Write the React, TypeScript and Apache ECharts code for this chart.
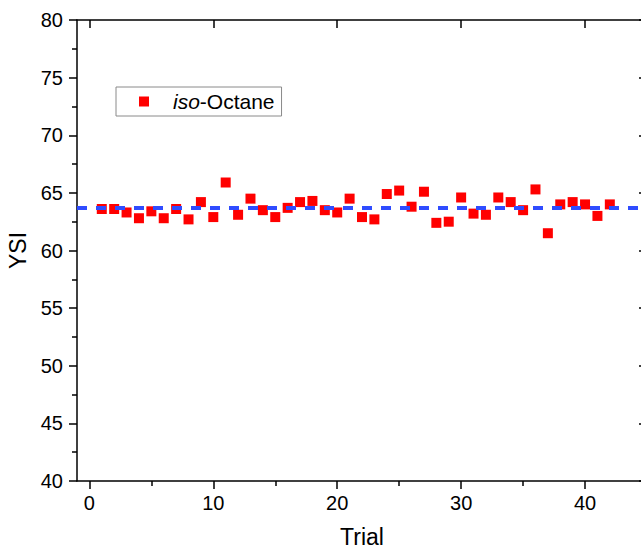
import React, { useEffect, useRef } from 'react';
import * as echarts from 'echarts';

// ---- data ----
const trials = [
  1, 2, 3, 4, 5, 6, 7, 8, 9, 10,
  11, 12, 13, 14, 15, 16, 17, 18, 19, 20,
  21, 22, 23, 24, 25, 26, 27, 28, 29, 30,
  31, 32, 33, 34, 35, 36, 37, 38, 39, 40,
  41, 42,
];
const ysiValues = [
  63.6, 63.6, 63.3, 62.8, 63.4, 62.8, 63.6, 62.7, 64.2, 62.9,
  65.9, 63.1, 64.5, 63.5, 62.9, 63.7, 64.2, 64.3, 63.5, 63.3,
  64.5, 62.9, 62.7, 64.9, 65.2, 63.8, 65.1, 62.4, 62.5, 64.6,
  63.2, 63.1, 64.6, 64.2, 63.5, 65.3, 61.5, 64.0, 64.2, 64.0,
  63.0, 64.0,
];
const meanYSI = 63.7;
const seriesName = 'iso-Octane';
const xMajorTicks = [0, 10, 20, 30, 40];
const xMinorTicks = [5, 15, 25, 35, 45];

const FONT = 'Liberation Sans, Arial, Helvetica, sans-serif';

export default function App() {
  const ref = useRef<HTMLDivElement>(null);

  useEffect(() => {
    if (!ref.current) return;
    const chart = echarts.init(ref.current, undefined, { renderer: 'svg' });
    const points = trials.map((t, i) => [t, ysiValues[i]]);
    const black = '#000';

    chart.setOption({
      animation: false,
      backgroundColor: '#fff',
      textStyle: { fontFamily: FONT },
      grid: { left: 77, right: -6, top: 20, bottom: 67, containLabel: false, outerBoundsMode: 'none' },
      legend: {
        show: true,
        data: [seriesName],
        left: 116,
        top: 87,
        orient: 'horizontal',
        icon: 'rect',
        itemWidth: 10,
        itemHeight: 10,
        padding: [4, 7, 4, 23],
        borderColor: '#8a8a8a',
        borderWidth: 1,
        selectedMode: false,
        formatter: () => '{i|iso}{n|-Octane}',
        textStyle: {
          fontFamily: FONT,
          fontSize: 21,
          color: black,
          rich: {
            i: { fontFamily: FONT, fontSize: 21, fontStyle: 'italic', color: black, padding: [0, 0, 0, 19] },
            n: { fontFamily: FONT, fontSize: 21, color: black },
          },
        },
      },
      xAxis: [
        {
          type: 'value',
          position: 'bottom',
          min: -1,
          max: 45,
          name: 'Trial',
          nameLocation: 'middle',
          nameGap: 44,
          nameTextStyle: { fontFamily: FONT, fontSize: 23, color: black },
          axisLine: { show: true, onZero: false, lineStyle: { color: black, width: 1.5 } },
          axisTick: { show: true, inside: false, length: 8, customValues: xMajorTicks, lineStyle: { color: black, width: 1.5 } },
          axisLabel: { show: true, customValues: xMajorTicks, margin: 12, fontFamily: FONT, fontSize: 20, color: black },
          splitLine: { show: false },
        },
        {
          type: 'value',
          position: 'bottom',
          min: -1,
          max: 45,
          axisLine: { show: false, onZero: false },
          axisTick: { show: true, inside: false, length: 5, customValues: xMinorTicks, lineStyle: { color: black, width: 1.5 } },
          axisLabel: { show: false },
          splitLine: { show: false },
        },
        {
          type: 'value',
          position: 'top',
          min: -1,
          max: 45,
          axisLine: { show: true, onZero: false, lineStyle: { color: black, width: 1.5 } },
          axisTick: { show: true, inside: true, length: 8, customValues: xMajorTicks, lineStyle: { color: black, width: 1.5 } },
          axisLabel: { show: false },
          splitLine: { show: false },
        },
      ],
      yAxis: [
        {
          type: 'value',
          position: 'left',
          min: 40,
          max: 80,
          interval: 5,
          name: 'YSI',
          nameLocation: 'middle',
          nameGap: 45,
          nameRotate: 90,
          nameTextStyle: { fontFamily: FONT, fontSize: 23, color: black },
          axisLine: { show: true, onZero: false, lineStyle: { color: black, width: 1.5 } },
          axisTick: { show: true, inside: false, length: 8, lineStyle: { color: black, width: 1.5 } },
          minorTick: { show: true, splitNumber: 2, length: 5, lineStyle: { color: black, width: 1.5 } },
          axisLabel: { show: true, margin: 14, fontFamily: FONT, fontSize: 20, color: black },
          splitLine: { show: false },
          minorSplitLine: { show: false },
        },
        {
          type: 'value',
          position: 'right',
          min: 40,
          max: 80,
          interval: 5,
          axisLine: { show: true, onZero: false, lineStyle: { color: black, width: 1.5 } },
          axisTick: { show: true, inside: true, length: 8, lineStyle: { color: black, width: 1.5 } },
          axisLabel: { show: false },
          splitLine: { show: false },
        },
      ],
      series: [
        {
          name: seriesName,
          type: 'scatter',
          xAxisIndex: 0,
          yAxisIndex: 0,
          symbol: 'rect',
          symbolSize: 10,
          itemStyle: { color: '#ff0000', opacity: 1 },
          data: points,
          z: 3,
          markLine: {
            silent: true,
            symbol: ['none', 'none'],
            label: { show: false },
            lineStyle: { color: '#2f4cff', width: 4, type: [10, 9], opacity: 1 },
            data: [{ yAxis: meanYSI }],
            z: 4,
          },
        },
      ],
    });

    return () => chart.dispose();
  }, []);

  return (
    <div
      ref={ref}
      style={{ position: 'absolute', left: 0, top: 0, width: 641, height: 548, background: '#fff' }}
    />
  );
}
